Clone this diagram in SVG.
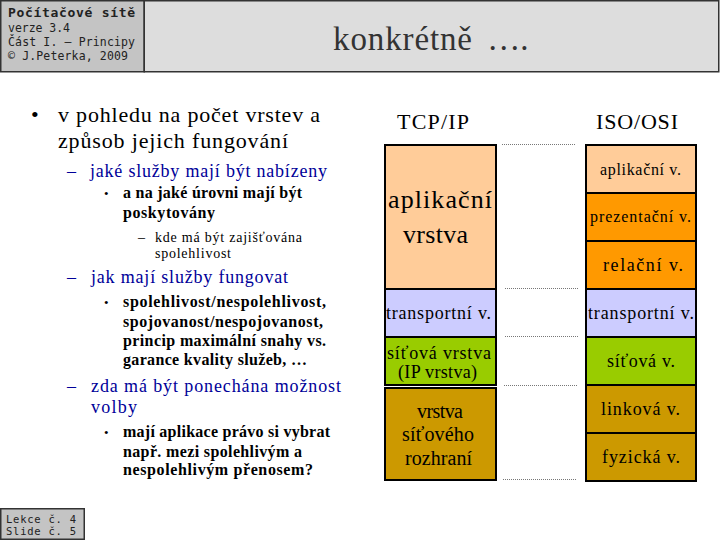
<svg xmlns="http://www.w3.org/2000/svg" width="720" height="540" viewBox="0 0 720 540">
<style>
.hdr{fill:#c4c4c4;stroke:#333;stroke-width:1.5}
.ttl{fill:#dddddd;stroke:#333;stroke-width:1.5}
.mono{font-family:"DejaVu Sans Mono","Liberation Mono",monospace;fill:#222}
.serif{font-family:"Liberation Serif","Times New Roman",serif;fill:#000}
.lay{stroke:#000;stroke-width:2}
.c-app{fill:#ffcc99}.c-pre{fill:#ff9900}.c-tr{fill:#ccccff}.c-net{fill:#99cc00}.c-phy{fill:#cc9900}
.lt{font-family:"Liberation Serif","Times New Roman",serif;font-size:18px;fill:#000}
.dot{stroke:#777;stroke-width:1;stroke-dasharray:1 1}
.blue{fill:#000099}
.b1{font-size:22px}.b2{font-size:18px}.b3{font-size:16px;font-weight:bold}.b4{font-size:14px}
</style>
<rect width="720" height="540" fill="#fff"/>
<g id="header">
<rect class="hdr" x="0.75" y="0.75" width="143.5" height="71"/>
<rect class="ttl" x="144.25" y="0.75" width="574.5" height="71"/>
<text class="mono" x="8" y="17" font-size="13" font-weight="bold" textLength="127" lengthAdjust="spacing">Počítačové sítě</text>
<text class="mono" x="8" y="32" font-size="11.5" textLength="62" lengthAdjust="spacing">verze 3.4</text>
<text class="mono" x="8" y="46" font-size="11.5" textLength="127" lengthAdjust="spacing">Část I. – Principy</text>
<text class="mono" x="8" y="60" font-size="11.5" textLength="120" lengthAdjust="spacing">© J.Peterka, 2009</text>
<text class="serif" x="333" y="50" font-size="33" style="fill:#333"><tspan textLength="139" lengthAdjust="spacing">konkrétně</tspan><tspan x="479"> ….</tspan></text>
</g>
<g id="footer">
<rect class="hdr" x="0.75" y="508.75" width="83.5" height="30.5"/>
<text class="mono" x="6" y="523" font-size="10.5" textLength="70" lengthAdjust="spacing">Lekce č. 4</text>
<text class="mono" x="6" y="535" font-size="10.5" textLength="70" lengthAdjust="spacing">Slide č. 5</text>
</g>
<g id="bullets" class="serif">
<text x="31" y="122" class="b1">•</text>
<text x="58" y="122" class="b1" textLength="262" lengthAdjust="spacing">v pohledu na počet vrstev a</text>
<text x="58" y="148" class="b1" textLength="230" lengthAdjust="spacing">způsob jejich fungování</text>
<text x="67" y="177" class="b2 blue">–</text>
<text x="90" y="177" class="b2 blue" textLength="237" lengthAdjust="spacing">jaké služby mají být nabízeny</text>
<text x="104" y="198" font-size="13">•</text>
<text x="123" y="198" class="b3" textLength="179" lengthAdjust="spacing">a na jaké úrovni mají být</text>
<text x="123" y="218" class="b3" textLength="92" lengthAdjust="spacing">poskytovány</text>
<text x="138" y="242" class="b4">–</text>
<text x="155" y="242" class="b4" textLength="147" lengthAdjust="spacing">kde má být zajišťována</text>
<text x="155" y="258" class="b4" textLength="76" lengthAdjust="spacing">spolehlivost</text>
<text x="67" y="283" class="b2 blue">–</text>
<text x="91" y="283" class="b2 blue" textLength="197" lengthAdjust="spacing">jak mají služby fungovat</text>
<text x="104" y="307" font-size="13">•</text>
<text x="123" y="307" class="b3" textLength="203" lengthAdjust="spacing">spolehlivost/nespolehlivost,</text>
<text x="123" y="327" class="b3" textLength="200" lengthAdjust="spacing">spojovanost/nespojovanost,</text>
<text x="123" y="346" class="b3" textLength="203" lengthAdjust="spacing">princip maximální snahy vs.</text>
<text x="123" y="365" class="b3" textLength="184" lengthAdjust="spacing">garance kvality služeb, …</text>
<text x="67" y="392" class="b2 blue">–</text>
<text x="91" y="392" class="b2 blue" textLength="250" lengthAdjust="spacing">zda má být ponechána možnost</text>
<text x="91" y="413" class="b2 blue" textLength="46" lengthAdjust="spacing">volby</text>
<text x="104" y="437" font-size="13">•</text>
<text x="123" y="437" class="b3" textLength="207" lengthAdjust="spacing">mají aplikace právo si vybrat</text>
<text x="123" y="457" class="b3" textLength="179" lengthAdjust="spacing">např. mezi spolehlivým a</text>
<text x="123" y="475" class="b3" textLength="190" lengthAdjust="spacing">nespolehlivým přenosem?</text>
</g>
<g id="tcpip">
<text class="lt" x="397" y="129" style="font-size:22px" textLength="72" lengthAdjust="spacing">TCP/IP</text>
<g id="tcp-app"><rect class="lay c-app" x="385" y="145" width="111" height="144"/>
<text class="lt" x="388" y="208" style="font-size:26px" textLength="104" lengthAdjust="spacing">aplikační</text>
<text class="lt" x="403" y="243" style="font-size:26px" textLength="65" lengthAdjust="spacing">vrstva</text></g>
<g id="tcp-tr"><rect class="lay c-tr" x="385" y="289" width="111" height="48"/>
<text class="lt" x="386" y="319" textLength="105" lengthAdjust="spacing">transportní v.</text></g>
<g id="tcp-net"><rect class="lay c-net" x="385" y="337" width="111" height="48"/>
<text class="lt" x="387" y="359" textLength="104" lengthAdjust="spacing">síťová vrstva</text>
<text class="lt" x="398" y="378" textLength="79" lengthAdjust="spacing">(IP vrstva)</text></g>
<g id="tcp-link"><rect class="lay c-phy" x="385" y="388" width="111" height="92"/>
<text class="lt" x="417" y="418" style="font-size:20px" textLength="46" lengthAdjust="spacing">vrstva</text>
<text class="lt" x="402" y="441" style="font-size:20px" textLength="72" lengthAdjust="spacing">síťového</text>
<text class="lt" x="405" y="465" style="font-size:20px" textLength="67" lengthAdjust="spacing">rozhraní</text></g>
</g>
<g id="isoosi">
<text class="lt" x="596" y="129" style="font-size:22px" textLength="82" lengthAdjust="spacing">ISO/OSI</text>
<g id="iso-app"><rect class="lay c-app" x="586" y="145" width="110" height="48"/>
<text class="lt" x="600" y="175" style="font-size:16px" textLength="81" lengthAdjust="spacing">aplikační v.</text></g>
<g id="iso-pre"><rect class="lay c-pre" x="586" y="193" width="110" height="48"/>
<text class="lt" x="590" y="222" style="font-size:16px" textLength="101" lengthAdjust="spacing">prezentační v.</text></g>
<g id="iso-rel"><rect class="lay c-pre" x="586" y="241" width="110" height="48"/>
<text class="lt" x="603" y="271" textLength="80" lengthAdjust="spacing">relační v.</text></g>
<g id="iso-tr"><rect class="lay c-tr" x="586" y="289" width="110" height="48"/>
<text class="lt" x="588" y="319" textLength="106" lengthAdjust="spacing">transportní v.</text></g>
<g id="iso-net"><rect class="lay c-net" x="586" y="337" width="110" height="48"/>
<text class="lt" x="607" y="367" textLength="68" lengthAdjust="spacing">síťová v.</text></g>
<g id="iso-link"><rect class="lay c-phy" x="586" y="385" width="110" height="48"/>
<text class="lt" x="601" y="415" textLength="79" lengthAdjust="spacing">linková v.</text></g>
<g id="iso-phy"><rect class="lay c-phy" x="586" y="433" width="110" height="48"/>
<text class="lt" x="602" y="463" textLength="78" lengthAdjust="spacing">fyzická v.</text></g>
</g>
<g id="connectors">
<line class="dot" x1="502" y1="144.5" x2="576" y2="144.5"/>
<line class="dot" x1="505" y1="288.5" x2="578" y2="288.5"/>
<line class="dot" x1="505" y1="336.5" x2="578" y2="336.5"/>
<line class="dot" x1="504" y1="385.5" x2="578" y2="385.5"/>
<line class="dot" x1="503" y1="479.5" x2="577" y2="479.5"/>
</g>
</svg>
